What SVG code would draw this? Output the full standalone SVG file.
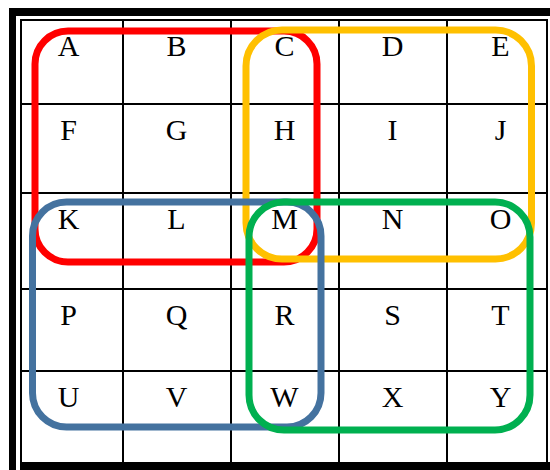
<svg xmlns="http://www.w3.org/2000/svg" width="550" height="470" viewBox="0 0 550 470">
<style>
.g{stroke:#000;stroke-width:2;fill:none}
.t{font-family:"Liberation Serif","Times New Roman",serif;font-size:30px;fill:#000;text-anchor:middle}
.loop{fill:none;stroke-width:7}
</style>
<rect width="550" height="470" fill="#fff"/>
<g id="frame">
<rect x="9" y="8" width="541" height="8" fill="#000"/>
<rect x="9" y="8" width="7" height="462" fill="#000"/>
<rect x="20" y="462" width="530" height="8" fill="#000"/>
<path class="g" d="M21 20V462M123 20V462M231 20V462M339 20V462M447 20V462M547 20V462M20 20H548M20 104H548M20 193H548M20 289H548M20 371H548"/>
</g>
<g id="cells">
<g id="row1"><text class="t" x="68.5" y="56">A</text><text class="t" x="176.5" y="56">B</text><text class="t" x="284.5" y="56">C</text><text class="t" x="392.5" y="56">D</text><text class="t" x="500.5" y="56">E</text></g>
<g id="row2"><text class="t" x="68.5" y="140">F</text><text class="t" x="176.5" y="140">G</text><text class="t" x="284.5" y="140">H</text><text class="t" x="392.5" y="140">I</text><text class="t" x="500.5" y="140">J</text></g>
<g id="row3"><text class="t" x="68.5" y="229">K</text><text class="t" x="176.5" y="229">L</text><text class="t" x="284.5" y="229">M</text><text class="t" x="392.5" y="229">N</text><text class="t" x="500.5" y="229">O</text></g>
<g id="row4"><text class="t" x="68.5" y="325">P</text><text class="t" x="176.5" y="325">Q</text><text class="t" x="284.5" y="325">R</text><text class="t" x="392.5" y="325">S</text><text class="t" x="500.5" y="325">T</text></g>
<g id="row5"><text class="t" x="68.5" y="407">U</text><text class="t" x="176.5" y="407">V</text><text class="t" x="284.5" y="407">W</text><text class="t" x="392.5" y="407">X</text><text class="t" x="500.5" y="407">Y</text></g>
</g>
<g id="loops">
<rect id="red" class="loop" stroke="#FF0000" x="35" y="31" width="282" height="231" rx="33"/>
<rect id="yellow" class="loop" stroke="#FFC000" x="246" y="30" width="285.5" height="229" rx="36"/>
<rect id="blue" class="loop" stroke="#44729F" x="32.5" y="202" width="288.5" height="225" rx="34"/>
<rect id="green" class="loop" stroke="#00B050" x="249" y="202" width="281" height="228" rx="35"/>
</g>
</svg>
